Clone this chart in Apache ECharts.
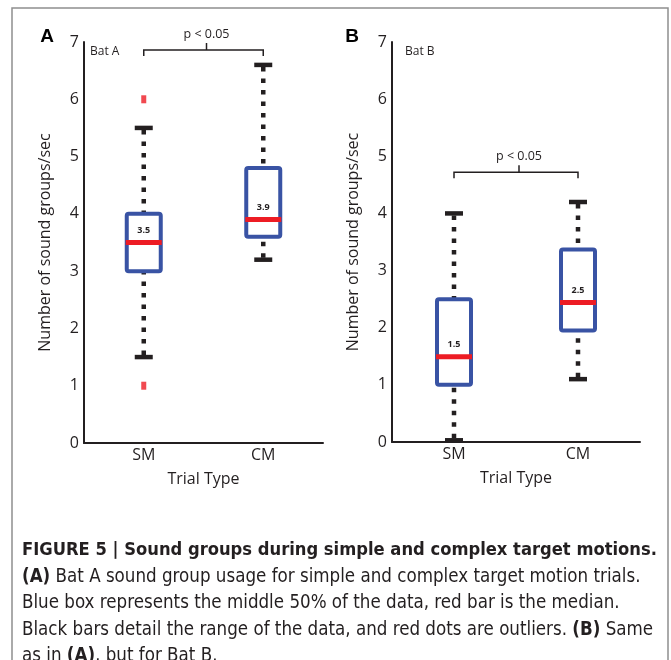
<!DOCTYPE html>
<html>
<head>
<meta charset="utf-8">
<script src="https://cdn.jsdelivr.net/npm/echarts@6/dist/echarts.min.js"></script>
<style>
  html, body { margin: 0; padding: 0; background: #fff; }
  #chart { width: 671px; height: 660px; }
</style>
</head>
<body>
<div id="chart"></div>
<script>
// categories and values
const categories = ['SM', 'CM']
// [category, low whisker, q1, median, q3, high whisker]
const batA = [
  [0, 1.5, 3.0, 3.5, 4.0, 5.5],
  [1, 3.2, 3.6, 3.9, 4.8, 6.6]
]
const batB = [
  [0, 0.03, 1.0, 1.49, 2.5, 4.0],
  [1, 1.1, 1.95, 2.44, 3.37, 4.2]
]
const medianLabelsA = ['3.5', '3.9']
const medianLabelsB = ['1.5', '2.5']
const outliersA = [[0, 6.0], [0, 1.0]]
// significance brackets: [from category, to category, level]
const bracketA = [[0, 1, 6.86]]
const bracketB = [[0, 1, 4.72]]

const BLUE = '#3953a4'
const RED = '#ed1c24'
const INK = '#231f20'
const FONT = "'Open Sans', sans-serif"
const CAPTION_FONT = "'Liberation Sans Narrow', 'DejaVu Sans Condensed', sans-serif"

function boxRenderer (labels) {
  return function (params, api) {
    const c = api.value(0)
    const low = api.coord([c, api.value(1)])
    const q1 = api.coord([c, api.value(2)])
    const med = api.coord([c, api.value(3)])
    const q3 = api.coord([c, api.value(4)])
    const high = api.coord([c, api.value(5)])
    const x = q1[0]
    const half = 17
    const dotted = { stroke: INK, lineWidth: 4.5, lineDash: [4.5, 7] }
    const cap = { stroke: INK, lineWidth: 4.5 }
    return {
      type: 'group',
      children: [
        { type: 'line', shape: { x1: x, y1: high[1] + 2, x2: x, y2: q3[1] }, style: dotted },
        { type: 'line', shape: { x1: x, y1: low[1] - 2, x2: x, y2: q1[1] }, style: dotted },
        { type: 'line', shape: { x1: x - 9, y1: high[1], x2: x + 9, y2: high[1] }, style: cap },
        { type: 'line', shape: { x1: x - 9, y1: low[1], x2: x + 9, y2: low[1] }, style: cap },
        {
          type: 'rect',
          shape: { x: x - half, y: q3[1], width: half * 2, height: q1[1] - q3[1], r: 2 },
          style: { fill: '#fff', stroke: BLUE, lineWidth: 4 }
        },
        { type: 'line', shape: { x1: x - 18, y1: med[1], x2: x + 18, y2: med[1] }, style: { stroke: RED, lineWidth: 5 } },
        {
          type: 'text',
          x: x,
          y: med[1] - 8,
          style: {
            text: labels[params.dataIndex],
            fill: INK,
            font: "bold 9px 'Open Sans', sans-serif",
            align: 'center',
            verticalAlign: 'bottom'
          }
        }
      ]
    }
  }
}

function bracketRenderer (params, api) {
  const a = api.coord([api.value(0), api.value(2)])
  const b = api.coord([api.value(1), api.value(2)])
  const mid = (a[0] + b[0]) / 2 + 3
  const s = { stroke: INK, lineWidth: 1.5, fill: null }
  return {
    type: 'group',
    children: [
      {
        type: 'polyline',
        shape: { points: [[a[0], a[1] + 6], [a[0], a[1]], [b[0], b[1]], [b[0], b[1] + 6]] },
        style: s
      },
      { type: 'line', shape: { x1: mid, y1: a[1], x2: mid, y2: a[1] - 7 }, style: s },
      {
        type: 'text',
        x: mid,
        y: a[1] - 9,
        style: { text: 'p < 0.05', fill: INK, font: "12.5px 'Open Sans', sans-serif", align: 'center', verticalAlign: 'bottom' }
      }
    ]
  }
}

function xAxisFor (gridIndex) {
  return {
    type: 'category',
    gridIndex: gridIndex,
    data: categories,
    name: 'Trial Type',
    nameLocation: 'middle',
    nameGap: 28,
    nameTextStyle: { color: INK, fontSize: 16, fontFamily: FONT },
    axisTick: { show: false },
    axisLine: { lineStyle: { color: INK, width: 2 } },
    axisLabel: { color: INK, fontSize: 16, fontFamily: FONT, margin: 4 }
  }
}

function yAxisFor (gridIndex) {
  return {
    type: 'value',
    gridIndex: gridIndex,
    min: 0,
    max: 7,
    interval: 1,
    name: 'Number of sound groups/sec',
    nameLocation: 'middle',
    nameGap: 31,
    nameTextStyle: { color: INK, fontSize: 16, fontFamily: FONT },
    splitLine: { show: false },
    axisTick: { show: false },
    axisLine: { show: true, lineStyle: { color: INK, width: 2 } },
    axisLabel: { color: INK, fontSize: 16, fontFamily: FONT, margin: 5 }
  }
}

const captionRich = {
  n: { fontSize: 18.6, fontFamily: CAPTION_FONT, fill: INK, color: INK },
  b: { fontSize: 18.6, fontFamily: CAPTION_FONT, fontWeight: 'bold', fill: INK, color: INK },
  t: { fontSize: 18.2, fontFamily: CAPTION_FONT, fontWeight: 'bold', fill: INK, color: INK }
}
const captionLines = [
  '{t|FIGURE 5 | Sound groups during simple and complex target motions.}',
  '{b|(A)}{n| Bat A sound group usage for simple and complex target motion trials.}',
  '{n|Blue box represents the middle 50% of the data, red bar is the median.}',
  '{n|Black bars detail the range of the data, and red dots are outliers. }{b|(B)}{n| Same}',
  '{n|as in }{b|(A)}{n|, but for Bat B.}'
]
const captionY = [550, 577, 603, 630, 656]

const graphics = [
  { type: 'rect', shape: { x: 12, y: 8, width: 656, height: 700 }, style: { fill: null, stroke: '#8f8f8f', lineWidth: 1.5 }, z: 0 },
  { type: 'text', x: 47, y: 37, style: { text: 'A', font: 'bold 19px Arial, sans-serif', fill: '#000', align: 'center', verticalAlign: 'middle' } },
  { type: 'text', x: 352, y: 37, style: { text: 'B', font: 'bold 19px Arial, sans-serif', fill: '#000', align: 'center', verticalAlign: 'middle' } },
  { type: 'text', x: 90, y: 52, style: { text: 'Bat A', font: "12px 'Open Sans', sans-serif", fill: INK, verticalAlign: 'middle' } },
  { type: 'text', x: 405, y: 52, style: { text: 'Bat B', font: "12px 'Open Sans', sans-serif", fill: INK, verticalAlign: 'middle' } }
]
captionLines.forEach((line, i) => {
  graphics.push({
    type: 'text',
    x: 22,
    y: captionY[i],
    style: { text: line, rich: captionRich, fontSize: 18.6, fontFamily: CAPTION_FONT, fill: INK, verticalAlign: 'middle' }
  })
})

const option = {
  animation: false,
  backgroundColor: '#fff',
  grid: [
    { left: 84, top: 42, width: 239, height: 401 },
    { left: 392, top: 42, width: 248, height: 400 }
  ],
  xAxis: [xAxisFor(0), xAxisFor(1)],
  yAxis: [yAxisFor(0), yAxisFor(1)],
  graphic: graphics,
  series: [
    { type: 'custom', xAxisIndex: 0, yAxisIndex: 0, renderItem: boxRenderer(medianLabelsA), data: batA, z: 3 },
    { type: 'custom', xAxisIndex: 1, yAxisIndex: 1, renderItem: boxRenderer(medianLabelsB), data: batB, z: 3 },
    {
      type: 'scatter',
      xAxisIndex: 0,
      yAxisIndex: 0,
      symbol: 'rect',
      symbolSize: [5, 8],
      itemStyle: { color: RED },
      data: outliersA,
      z: 4
    },
    { type: 'custom', xAxisIndex: 0, yAxisIndex: 0, renderItem: bracketRenderer, data: bracketA, z: 4 },
    { type: 'custom', xAxisIndex: 1, yAxisIndex: 1, renderItem: bracketRenderer, data: bracketB, z: 4 }
  ]
}

const myChart = echarts.init(document.getElementById('chart'))
myChart.setOption(option)
</script>
</body>
</html>
